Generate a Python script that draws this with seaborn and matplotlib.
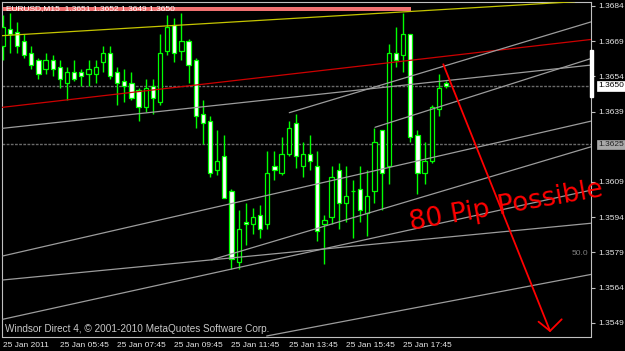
import numpy as np
import pandas as pd
import matplotlib
matplotlib.use("Agg")
import matplotlib.pyplot as plt
import matplotlib.transforms as mtransforms
from matplotlib.patches import Rectangle
import seaborn as sns

# ---------------- data ----------------
symbol_title = "EURUSD,M15  1.3651 1.3652 1.3649 1.3650"
x_tick_pos = [0, 8, 16, 24, 32, 40, 48, 56]
x_tick_labels = ["25 Jan 2011", "25 Jan 05:45", "25 Jan 07:45", "25 Jan 09:45",
                 "25 Jan 11:45", "25 Jan 13:45", "25 Jan 15:45", "25 Jan 17:45"]
y_tick_values = [1.3684, 1.3669, 1.3654, 1.3639, 1.3609, 1.3594, 1.3579, 1.3564, 1.3549]
bid_price = 1.3650
hline_price = 1.3625

opens = [1.3667, 1.3674, 1.3673, 1.3669, 1.3664, 1.3661, 1.3657, 1.3661, 1.3658, 1.3651,
         1.3656, 1.3656, 1.3655, 1.3655, 1.3660, 1.3664, 1.3656, 1.3652, 1.3651, 1.3648,
         1.3641, 1.3650, 1.3643, 1.3665, 1.3676, 1.3665, 1.3669, 1.3661, 1.3638, 1.3635,
         1.3614, 1.3620, 1.3605, 1.3575, 1.3592, 1.3591, 1.3595, 1.3591, 1.3616, 1.3613,
         1.3621, 1.3634, 1.3616, 1.3621, 1.3616, 1.3591, 1.3594, 1.3614, 1.3600, 1.3605,
         1.3606, 1.3596, 1.3605, 1.3631, 1.3616, 1.3664, 1.3663, 1.3672, 1.3629, 1.3613,
         1.3618, 1.3640, 1.3651]
highs = [1.3680, 1.3681, 1.3677, 1.3672, 1.3667, 1.3662, 1.3664, 1.3663, 1.3661, 1.3658,
         1.3661, 1.3657, 1.3661, 1.3661, 1.3667, 1.3667, 1.3658, 1.3657, 1.3656, 1.3649,
         1.3653, 1.3653, 1.3672, 1.3680, 1.3679, 1.3681, 1.3670, 1.3662, 1.3644, 1.3637,
         1.3631, 1.3629, 1.3606, 1.3597, 1.3600, 1.3598, 1.3599, 1.3622, 1.3622, 1.3628,
         1.3635, 1.3638, 1.3626, 1.3629, 1.3622, 1.3595, 1.3616, 1.3617, 1.3616, 1.3610,
         1.3616, 1.3614, 1.3632, 1.3631, 1.3668, 1.3675, 1.3681, 1.3672, 1.3631, 1.3626,
         1.3642, 1.3655, 1.3652]
lows = [1.3661, 1.3664, 1.3664, 1.3662, 1.3657, 1.3653, 1.3655, 1.3654, 1.3649, 1.3644,
        1.3652, 1.3650, 1.3650, 1.3651, 1.3656, 1.3653, 1.3642, 1.3643, 1.3644, 1.3635,
        1.3639, 1.3638, 1.3642, 1.3663, 1.3660, 1.3661, 1.3651, 1.3632, 1.3625, 1.3611,
        1.3612, 1.3602, 1.3572, 1.3572, 1.3582, 1.3587, 1.3585, 1.3589, 1.3610, 1.3612,
        1.3620, 1.3615, 1.3611, 1.3614, 1.3584, 1.3574, 1.3591, 1.3589, 1.3592, 1.3585,
        1.3592, 1.3586, 1.3600, 1.3597, 1.3608, 1.3658, 1.3656, 1.3626, 1.3604, 1.3608,
        1.3617, 1.3637, 1.3649]
closes = [1.3675, 1.3672, 1.3667, 1.3663, 1.3659, 1.3655, 1.3661, 1.3657, 1.3653, 1.3656,
          1.3653, 1.3654, 1.3657, 1.3658, 1.3664, 1.3654, 1.3651, 1.3650, 1.3645, 1.3641,
          1.3649, 1.3645, 1.3664, 1.3675, 1.3664, 1.3669, 1.3659, 1.3637, 1.3634, 1.3613,
          1.3618, 1.3602, 1.3576, 1.3589, 1.3591, 1.3594, 1.3589, 1.3613, 1.3614, 1.3621,
          1.3632, 1.3620, 1.3621, 1.3618, 1.3588, 1.3593, 1.3611, 1.3600, 1.3603, 1.3605,
          1.3597, 1.3603, 1.3626, 1.3613, 1.3664, 1.3661, 1.3672, 1.3628, 1.3613, 1.3618,
          1.3641, 1.3649, 1.3650]

# drawn objects: (bar index, price) end points
trend_names = ["yellow", "red", "A", "B", "C", "D", "E", "F", "G", "H"]
trend_x0 = [-0.38, -0.10, 0.0, 40.08, 52.07, 0.0, 0.0, 0.0, 29.23, 36.92]
trend_y0 = [1.36713, 1.36408, 1.363188, 1.363853, 1.363231, 1.357747, 1.356724, 1.355049, 1.357585, 1.354338]
trend_x1 = [80.04, 82.38, 82.38, 82.38, 82.38, 82.38, 82.38, 82.38, 82.38, 82.38]
trend_y1 = [1.368583, 1.366977, 1.365886, 1.367731, 1.366171, 1.3635, 1.359145, 1.360559, 1.362409, 1.356967]

pink_bar_x = [-0.5, 57.06]
pink_bar_y = [1.36820, 1.36837]

arrow_x = [61.62, 76.55]
arrow_y = [1.365916, 1.354551]
arrowhead_x = [74.94, 76.55, 78.18]
arrowhead_y = [1.354947, 1.354551, 1.355049]

# ---------------- figure ----------------
sns.set_style("dark")
plt.rcParams["font.family"] = ["Liberation Sans", "DejaVu Sans"]

fig = plt.figure(figsize=(6.25, 3.51), dpi=100, facecolor="black")
ax = fig.add_axes([2.2 / 625, 1 - 336.5 / 351, (591.5 - 2.2) / 625, (336.5 - 1.7) / 351])
ax.set_facecolor("black")
ax.set_xlim(-0.07, 82.35)
ax.set_ylim(1.354316, 1.368583)

idx = np.arange(len(opens))
o = np.array(opens); c = np.array(closes); h = np.array(highs); l = np.array(lows)
bull = c >= o
lime = "#00ff00"

# pink horizontal bar at top
ax.fill_between(pink_bar_x, pink_bar_y[0], pink_bar_y[1], color="#f07070", lw=0, zorder=2)

# horizontal dotted lines
ax.axhline(bid_price, color="#6a6a6a", lw=1, ls=(0, (2, 1)), zorder=1)
ax.axhline(hline_price, color="#6a6a6a", lw=1, ls=(0, (2, 1)), zorder=1)

# candles
ax.vlines(idx, l, h, color=lime, lw=1, zorder=3)
body_low = np.minimum(o, c)
body_h = np.maximum(np.abs(c - o), 0.000012)
ax.bar(idx, body_h, bottom=body_low, width=0.6,
       color=np.where(bull, "black", "white"), edgecolor=lime, linewidth=0.9, zorder=4)

# trend lines via seaborn
colors = {"yellow": "#c4c400", "red": "#cc0000"}
for name, xa, ya, xb, yb in zip(trend_names, trend_x0, trend_y0, trend_x1, trend_y1):
    df = pd.DataFrame({"x": [xa, xb], "y": [ya, yb]})
    sns.lineplot(data=df, x="x", y="y", ax=ax, color=colors.get(name, "#9c9c9c"),
                 lw=0.9, sort=False, estimator=None, zorder=5)

# red hand-drawn arrow
sns.lineplot(x=arrow_x, y=arrow_y, ax=ax, color="#ff0000", lw=1.3, sort=False, estimator=None, zorder=6)
sns.lineplot(x=arrowhead_x, y=arrowhead_y, ax=ax, color="#ff0000", lw=1.3, sort=False, estimator=None, zorder=6)

# texts
ax.text(0.0065, 0.979, symbol_title, transform=ax.transAxes, color="white",
        fontsize=6, va="center", ha="left", zorder=7)
ax.text(0.005, 0.0225, "Windsor Direct 4, \u00a9 2001-2010 MetaQuotes Software Corp.",
        transform=ax.transAxes, color="#c8c8c8", fontsize=7.2, va="center", ha="left", zorder=7)
ax.text(0.994, 0.249, "50.0", transform=ax.transAxes, color="#808080", fontsize=6,
        va="center", ha="right", zorder=7)
ax.text(0.855, 0.39, "80 Pip Possible", transform=ax.transAxes, color="#ff0000",
        fontsize=19, family="DejaVu Sans", rotation=10, va="center", ha="center",
        clip_on=False, zorder=8)

# axes styling
ax.set_xlabel(""); ax.set_ylabel("")
ax.set_xticks(x_tick_pos)
ax.set_xticklabels(x_tick_labels, ha="left")
ax.yaxis.tick_right()
ax.set_yticks(y_tick_values)
ax.set_yticklabels([f"{v:.4f}" for v in y_tick_values])
ax.tick_params(axis="both", colors="#c0c0c0", labelcolor="#e6e6e6", labelsize=6,
               length=3, width=0.8, direction="out")
ax.tick_params(axis="x", pad=1)
ax.tick_params(axis="y", pad=2)
ax.grid(False)
for s in ax.spines.values():
    s.set_visible(True)
    s.set_color("#c0c0c0")
    s.set_linewidth(0.8)

blend = mtransforms.blended_transform_factory(ax.transAxes, ax.transData)
ax.text(1.011, bid_price, f"{bid_price:.4f}", transform=blend, color="black", fontsize=6,
        va="center", ha="left", clip_on=False, zorder=9,
        bbox=dict(boxstyle="square,pad=0.15", fc="white", ec="white", lw=0.5))
ax.text(1.011, hline_price, f"{hline_price:.4f}", transform=blend, color="#202020", fontsize=6,
        va="center", ha="left", clip_on=False, zorder=9,
        bbox=dict(boxstyle="square,pad=0.15", fc="#a8a8a8", ec="#a8a8a8", lw=0.5))

fig.add_artist(Rectangle((590 / 625, 1 - 97 / 351), 3 / 625, 47 / 351,
                         transform=fig.transFigure, color="white", zorder=10))

fig.savefig("out.png", dpi=100, facecolor="black")
